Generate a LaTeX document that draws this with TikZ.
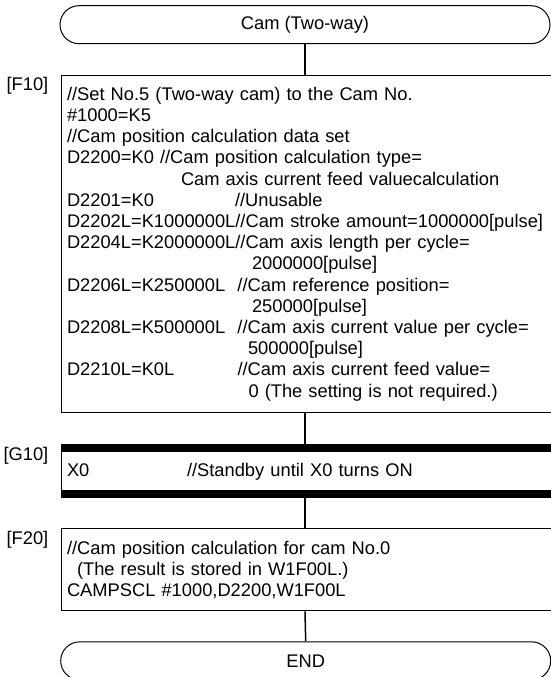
\documentclass[tikz,border=0pt]{standalone}
\usepackage{fontspec}
\setmainfont{Liberation Sans}
\usetikzlibrary{positioning}

\begin{document}
\begin{tikzpicture}[
node distance=30pt,
font=\fontsize{18.3pt}{21.2pt}\selectfont,
term/.style={draw,line width=1pt,rounded corners=19pt,minimum width=490pt,minimum height=38pt,inner sep=0pt},
prog/.style={draw,line width=1pt,text width=483pt,inner xsep=6pt,inner ysep=12pt,align=left},
wait/.style={prog,minimum height=53pt,inner ysep=0pt},
tag/.style={inner sep=0pt},
bar/.style={line width=8pt},
link/.style={line width=1.5pt}
]
\useasboundingbox (0,0) rectangle (551pt,-677pt);
\node[term] (start) at (305pt,-24.7pt) {Cam (Two-way)};
\node[prog,below right=30.3pt and 1pt of start.south west] (f10) {//Set No.5 (Two-way cam) to the Cam No.\\
\#1000=K5\\
//Cam position calculation data set\\
D2200=K0 //Cam position calculation type=\\
\hspace*{114pt}Cam axis current feed valuecalculation\\
\makebox[168pt][l]{D2201=K0}//Unusable\\
D2202L=K1000000L//Cam stroke amount=1000000[pulse]\\
D2204L=K2000000L//Cam axis length per cycle=\\
\hspace*{185pt}2000000[pulse]\\
\makebox[170.5pt][l]{D2206L=K250000L}//Cam reference position=\\
\hspace*{185pt}250000[pulse]\\
\makebox[170.5pt][l]{D2208L=K500000L}//Cam axis current value per cycle=\\
\hspace*{181pt}500000[pulse]\\
\makebox[170.5pt][l]{D2210L=K0L}//Cam axis current feed value=\\
\hspace*{181.5pt}0 (The setting is not required.)};
\node[wait,below right=31pt and 0pt of f10.south west] (g10) {\makebox[120pt][l]{X0}//Standby until X0 turns ON};
\node[prog,below right=30pt and 0pt of g10.south west] (f20) {//Cam position calculation for cam No.0\\
\hspace*{10pt}(The result is stored in W1F00L.)\\
CAMPSCL \#1000,D2200,W1F00L};
\node[term,below right=30pt and -0.3pt of f20.south west] (finish) {END};
\node[tag,below left=2.5pt and 12pt of f10.north west] (f10tag) {[F10]};
\node[tag,below left=2.5pt and 12pt of g10.north west] (g10tag) {[G10]};
\node[tag,below left=2.5pt and 12pt of f20.north west] (f20tag) {[F20]};
\draw[bar] ([yshift=-4pt]g10.north west) -- ([yshift=-4pt]g10.north east);
\draw[bar] ([yshift=4pt]g10.south west) -- ([yshift=4pt]g10.south east);
\draw[link] (start.south) -- (start |- f10.north);
\draw[link] (start |- f10.south) -- (start |- g10.north);
\draw[link] (start |- g10.south) -- (start |- f20.north);
\draw[link] (start |- f20.south) -- (finish.north);
\end{tikzpicture}
\end{document}
